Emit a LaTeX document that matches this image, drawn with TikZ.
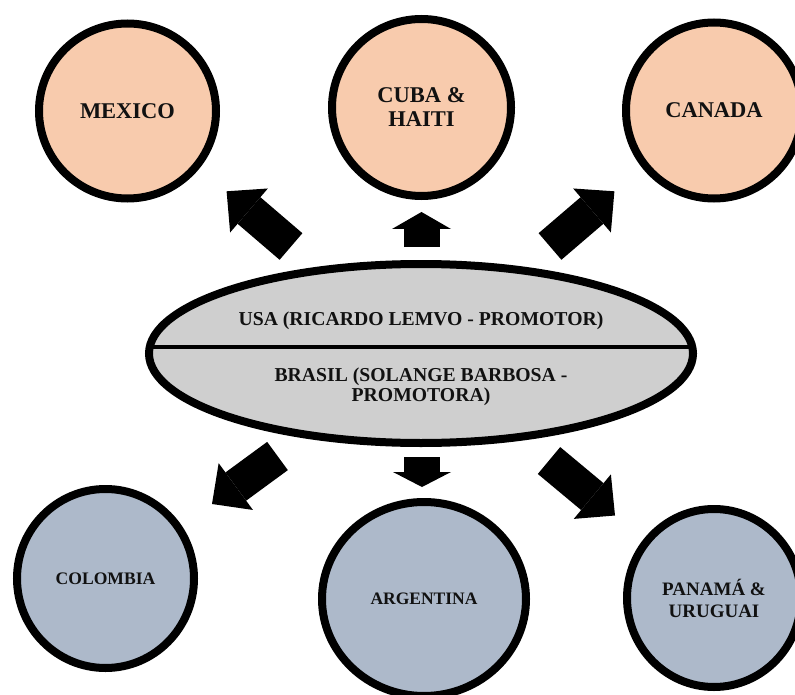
\documentclass[tikz,border=0pt]{standalone}
\usepackage{fontspec}
\setmainfont{Liberation Serif}
\usetikzlibrary{shapes.geometric,arrows.meta}
\definecolor{peach}{HTML}{F8CBAD}
\definecolor{slate}{HTML}{ADB9CA}
\definecolor{hubgray}{HTML}{CFCFCF}
\definecolor{ink}{HTML}{111111}
\begin{document}
\begin{tikzpicture}[x=1pt,y=-1pt,
  country/.style={ellipse, draw=black, line width=8pt, inner sep=0pt, outer sep=0pt,
    align=center, text=ink},
  north/.style={country, fill=peach, font=\fontsize{22.5}{24}\selectfont\bfseries},
  south/.style={country, fill=slate},
  hub/.style={ellipse, draw=black, line width=8pt, fill=hubgray, inner sep=0pt, outer sep=0pt},
  hubtext/.style={align=center, text=ink, inner sep=0pt,
    font=\fontsize{19.7}{20}\selectfont\bfseries},
  bigarrow/.style={line width=35pt, -{Triangle[width=58pt,length=29.5pt,line width=0pt]}},
  uparrow/.style={line width=36pt, -{Triangle[width=59pt,length=17pt,line width=0pt]}},
  downarrow/.style={line width=36pt, -{Triangle[width=58pt,length=15pt,line width=0pt]}},
]
\useasboundingbox (0,0) rectangle (795,695);

% central hub: two promoters, split by a horizontal rule
\node[hub, minimum width=544pt, minimum height=179pt] (hub) at (421,353.5) {};
\coordinate (divL) at (149.5,347);
\coordinate (divR) at (692.5,347);
\draw[line width=4.5pt] (divL) -- (divR);
\node[hubtext] (usa) at (421,320.4) {USA (RICARDO LEMVO - PROMOTOR)};
\node[hubtext] (brasil) at (421,387) {BRASIL (SOLANGE BARBOSA -\\PROMOTORA)};

% northern countries
\node[north, minimum width=177pt, minimum height=175pt] (mexico) at (127.5,111) {MEXICO};
\node[north, minimum width=179pt, minimum height=177pt] (cuba) at (421.5,107.5) {CUBA \&\\HAITI};
\node[north, minimum width=176pt, minimum height=176pt] (canada) at (714,110.5) {CANADA};

% southern countries
\node[south, minimum width=177pt, minimum height=179pt,
  font=\fontsize{17.6}{20}\selectfont\bfseries] (colombia) at (105.5,578.5) {COLOMBIA};
\node[south, minimum width=204pt, minimum height=194pt,
  font=\fontsize{17.5}{20}\selectfont\bfseries] (argentina) at (424,599) {ARGENTINA};
\node[south, minimum width=174pt, minimum height=178pt,
  font=\fontsize{19}{22}\selectfont\bfseries] (panama) at (714,598) {PANAMÁ \&\\URUGUAI};

% arrow ends
\coordinate (ulS) at (291,246.5);   \coordinate (ulT) at (226.6,191.3);
\coordinate (upS) at (421.5,247);   \coordinate (upT) at (421.5,212);
\coordinate (urS) at (550,246.5);   \coordinate (urT) at (614.4,191.3);
\coordinate (llS) at (277.5,456);   \coordinate (llT) at (212,504);
\coordinate (dnS) at (422,457);     \coordinate (dnT) at (422,487);
\coordinate (lrS) at (549,460.5);   \coordinate (lrT) at (615,515.5);

% block arrows from the hub
\draw[bigarrow] (ulS) -- (ulT);
\draw[uparrow] (upS) -- (upT);
\draw[bigarrow] (urS) -- (urT);
\draw[bigarrow] (llS) -- (llT);
\draw[downarrow] (dnS) -- (dnT);
\draw[bigarrow] (lrS) -- (lrT);
\end{tikzpicture}
\end{document}
